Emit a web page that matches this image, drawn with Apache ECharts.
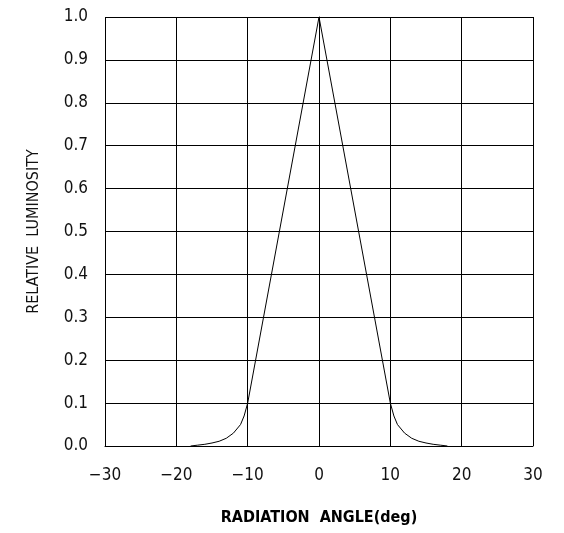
<!DOCTYPE html>
<html><head><meta charset="utf-8">
<script src="https://cdn.jsdelivr.net/npm/echarts@6/dist/echarts.min.js"></script>
<style>html,body{margin:0;padding:0;background:#fff}#c{width:564px;height:533px}</style>
</head><body><div id="c"></div>
<script>
const angles = [-18, -17, -16, -15, -14, -13, -12, -11, -10.5, -10, 0, 10, 10.5, 11, 12, 13, 14, 15, 16, 17, 18];
const luminosity = [0, 0.002, 0.004, 0.007, 0.011, 0.018, 0.03, 0.05, 0.07, 0.1, 1.0, 0.1, 0.07, 0.05, 0.03, 0.018, 0.011, 0.007, 0.004, 0.002, 0];
const xTitle = 'RADIATION  ANGLE(deg)';
const yTitle = 'RELATIVE  LUMINOSITY';
const FONT = '"DejaVu Sans Condensed","Liberation Sans Narrow",sans-serif';
const chart = echarts.init(document.getElementById('c'));
chart.setOption({
  animation: false,
  grid: {left: 105, right: 31, top: 17, bottom: 87},
  xAxis: {
    type: 'value', min: -30, max: 30, interval: 10,
    name: xTitle, nameLocation: 'middle', nameGap: 64,
    nameTextStyle: {fontFamily: FONT, fontSize: 16, fontWeight: 'bold', color: '#000'},
    axisLine: {show: true, lineStyle: {color: '#000', width: 1}},
    axisTick: {show: false},
    axisLabel: {fontFamily: FONT, fontSize: 17, fontWeight: 300, color: '#111', margin: 21, formatter: v => v < 0 ? '\u2212' + Math.abs(v) : String(v)},
    splitLine: {show: true, lineStyle: {color: '#000', width: 1}}
  },
  yAxis: {
    type: 'value', min: 0, max: 1, interval: 0.1,
    name: yTitle, nameLocation: 'middle', nameGap: 63,
    nameTextStyle: {fontFamily: FONT, fontSize: 16, fontWeight: 300, color: '#111'},
    axisLine: {show: true, lineStyle: {color: '#000', width: 1}},
    axisTick: {show: false},
    axisLabel: {fontFamily: FONT, fontSize: 17, fontWeight: 300, color: '#111', margin: 17, formatter: v => v.toFixed(1)},
    splitLine: {show: true, lineStyle: {color: '#000', width: 1}}
  },
  series: [{
    type: 'line', data: angles.map((a, i) => [a, luminosity[i]]),
    showSymbol: false, smooth: false,
    lineStyle: {color: '#000', width: 1}
  }]
});
</script></body></html>
